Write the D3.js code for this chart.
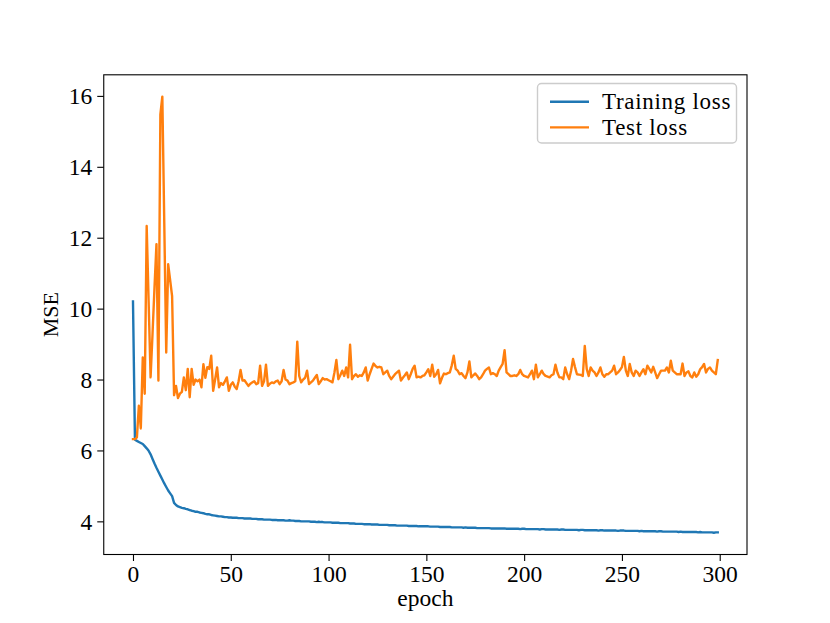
<!DOCTYPE html>
<html><head><meta charset="utf-8">
<script src="https://cdn.jsdelivr.net/npm/d3@7"></script>
<style>body{margin:0;background:#fff}svg{display:block}text{font-family:"Liberation Serif","DejaVu Serif",serif;fill:#000}</style>
</head><body><svg id="c" width="830" height="623"></svg>
<script>
const seriesNames = ["Training loss", "Test loss"];
const xTicks = [0, 50, 100, 150, 200, 250, 300];
const yTicks = [4, 6, 8, 10, 12, 14, 16];
const trainLoss = [
10.20,6.30,6.27,6.24,6.21,6.18,6.12,6.06,5.99,5.89,
5.76,5.63,5.51,5.40,5.29,5.18,5.07,4.97,4.87,4.79,
4.71,4.52,4.46,4.42,4.40,4.38,4.37,4.35,4.34,4.32,
4.30,4.29,4.27,4.27,4.25,4.24,4.23,4.21,4.20,4.20,
4.18,4.17,4.16,4.15,4.14,4.14,4.13,4.12,4.12,4.11,
4.11,4.10,4.10,4.10,4.09,4.09,4.09,4.08,4.08,4.08,
4.08,4.07,4.07,4.07,4.06,4.06,4.06,4.05,4.05,4.05,
4.05,4.04,4.04,4.04,4.03,4.03,4.03,4.03,4.02,4.02,
4.03,4.02,4.02,4.01,4.01,4.01,4.00,4.00,4.00,4.00,
4.00,3.99,3.99,3.99,3.98,3.99,3.98,3.98,3.97,3.97,
3.97,3.97,3.96,3.96,3.96,3.96,3.95,3.95,3.95,3.95,
3.95,3.94,3.94,3.94,3.93,3.93,3.93,3.93,3.92,3.92,
3.92,3.92,3.91,3.91,3.91,3.91,3.90,3.90,3.90,3.90,
3.90,3.89,3.89,3.89,3.89,3.88,3.88,3.88,3.88,3.88,
3.88,3.87,3.87,3.87,3.87,3.87,3.86,3.86,3.86,3.86,
3.86,3.86,3.85,3.85,3.85,3.85,3.85,3.84,3.84,3.84,
3.84,3.84,3.84,3.83,3.83,3.83,3.83,3.83,3.83,3.82,
3.83,3.82,3.82,3.82,3.82,3.82,3.81,3.81,3.81,3.81,
3.81,3.81,3.81,3.80,3.80,3.80,3.80,3.80,3.80,3.80,
3.80,3.79,3.79,3.79,3.79,3.79,3.79,3.79,3.78,3.79,
3.79,3.78,3.78,3.78,3.78,3.78,3.78,3.78,3.77,3.78,
3.78,3.77,3.77,3.77,3.77,3.77,3.77,3.77,3.76,3.77,
3.77,3.76,3.76,3.76,3.76,3.76,3.76,3.76,3.75,3.76,
3.76,3.75,3.75,3.75,3.75,3.75,3.75,3.75,3.74,3.75,
3.75,3.74,3.74,3.74,3.74,3.74,3.74,3.74,3.73,3.74,
3.74,3.74,3.73,3.73,3.73,3.73,3.73,3.73,3.73,3.72,
3.73,3.72,3.72,3.72,3.72,3.72,3.72,3.72,3.71,3.72,
3.72,3.71,3.71,3.71,3.71,3.71,3.71,3.71,3.71,3.70,
3.71,3.70,3.70,3.70,3.70,3.70,3.70,3.70,3.70,3.69,
3.70,3.69,3.69,3.69,3.69,3.69,3.69,3.68,3.69,3.69
];
const testLoss = [
6.32,6.32,6.37,7.26,6.62,8.62,7.60,12.33,10.20,8.06,
9.30,10.60,11.82,7.97,15.48,15.98,12.40,8.76,11.25,10.80,
10.35,7.56,7.82,7.48,7.60,7.65,8.06,7.70,8.30,7.50,
8.30,7.85,8.00,7.95,8.00,7.78,8.43,8.05,8.35,8.30,
8.67,7.68,8.00,8.34,7.78,7.90,7.85,7.95,8.06,7.68,
7.85,7.92,7.80,7.73,7.95,8.27,7.97,7.98,7.90,7.82,
7.88,7.92,7.95,7.87,7.90,8.39,7.82,7.95,8.42,7.82,
7.88,7.92,7.90,7.95,7.97,7.87,7.95,8.27,8.00,7.97,
7.87,7.90,7.92,7.95,9.07,8.10,7.92,8.00,8.05,8.25,
7.87,7.92,7.97,8.05,8.13,7.87,7.95,8.04,8.00,8.01,
7.98,7.95,7.92,8.20,8.55,8.01,8.12,8.25,8.10,8.34,
8.06,8.98,8.01,8.10,8.15,8.08,8.12,8.10,8.20,8.34,
7.97,8.15,8.30,8.45,8.38,8.34,8.36,8.34,8.15,8.20,
8.25,8.10,8.01,8.08,8.15,8.20,8.25,7.97,8.05,8.12,
8.20,8.01,8.15,8.30,8.39,8.06,8.08,8.06,8.10,8.12,
8.20,8.29,8.10,8.42,8.08,8.15,8.27,7.89,8.05,8.17,
8.15,8.18,8.20,8.40,8.67,8.30,8.25,8.15,8.18,8.10,
8.04,8.20,8.51,8.06,8.12,8.17,8.10,8.01,8.06,8.15,
8.25,8.30,8.34,8.15,8.18,8.15,8.10,8.25,8.35,8.44,
8.83,8.20,8.15,8.10,8.10,8.12,8.10,8.15,8.27,8.15,
8.10,8.08,8.06,8.15,8.25,8.01,8.42,8.06,8.15,8.25,
8.15,8.10,8.08,8.06,8.12,8.15,8.42,8.20,8.06,8.06,
8.01,8.34,8.15,8.01,8.25,8.58,8.35,8.15,8.14,8.13,
8.10,8.95,8.30,8.10,8.34,8.25,8.20,8.10,8.20,8.34,
8.15,8.08,8.15,8.15,8.20,8.25,8.39,8.15,8.20,8.27,
8.35,8.64,8.25,8.10,8.44,8.20,8.10,8.25,8.20,8.10,
8.20,8.29,8.15,8.39,8.30,8.20,8.36,8.20,8.04,8.15,
8.25,8.25,8.25,8.34,8.20,8.53,8.25,8.20,8.15,8.15,
8.15,8.45,8.10,8.20,8.23,8.10,8.06,8.20,8.08,8.15,
8.29,8.35,8.44,8.20,8.30,8.34,8.25,8.20,8.15,8.55
];
const colors = ["#1f77b4", "#ff7f0e"];

const W = 830, H = 623;
const m = {left: 103.75, right: 747, top: 74.8, bottom: 554.5};
const svg = d3.select("#c");
const n = trainLoss.length;
const xPad = (n - 1) * 0.05;
const x = d3.scaleLinear().domain([-xPad, n - 1 + xPad]).range([m.left, m.right]);
const allV = trainLoss.concat(testLoss);
const vmin = d3.min(allV), vmax = d3.max(allV), yPad = (vmax - vmin) * 0.05;
const y = d3.scaleLinear().domain([vmin - yPad, vmax + yPad]).range([m.bottom, m.top]);

const line = d3.line().x((d, i) => x(i)).y(d => y(d));
svg.append("clipPath").attr("id", "clp").append("rect")
  .attr("x", m.left).attr("y", m.top).attr("width", m.right - m.left).attr("height", m.bottom - m.top);
const g = svg.append("g").attr("clip-path", "url(#clp)");
[trainLoss, testLoss].forEach((s, k) => {
  g.append("path").datum(s).attr("d", line).attr("fill", "none")
    .attr("stroke", colors[k]).attr("stroke-width", 2.4).attr("stroke-linejoin", "round").attr("stroke-linecap", "square");
});

const fs = 23.5;
const xAxis = d3.axisBottom(x).tickValues(xTicks).tickSize(6.5).tickPadding(5).tickFormat(d3.format("d"));
const gx = svg.append("g").attr("transform", `translate(0,${m.bottom})`).call(xAxis);
const yAxis = d3.axisLeft(y).tickValues(yTicks).tickSize(6.5).tickPadding(5).tickFormat(d3.format("d"));
const gy = svg.append("g").attr("transform", `translate(${m.left},0)`).call(yAxis);
[gx, gy].forEach(a => {
  a.select(".domain").remove();
  a.selectAll(".tick line").attr("stroke", "#000").attr("stroke-width", 1.1);
  a.selectAll(".tick text").style("font-family", '"Liberation Serif", serif').style("font-size", fs + "px").attr("fill", "#000");
});
gy.selectAll(".tick text").attr("dy", "0.34em");
gx.selectAll(".tick text").attr("dy", "0.7em");

svg.append("rect").attr("x", m.left).attr("y", m.top).attr("width", m.right - m.left).attr("height", m.bottom - m.top)
  .attr("fill", "none").attr("stroke", "#000").attr("stroke-width", 1.1);

svg.append("text").attr("x", (m.left + m.right) / 2).attr("y", 606).attr("text-anchor", "middle")
  .style("font-size", fs + "px").text("epoch");
svg.append("text").attr("transform", `translate(58,${(m.top + m.bottom) / 2}) rotate(-90)`).attr("text-anchor", "middle")
  .style("font-size", "22px").text("MSE");

const lg = svg.append("g");
lg.append("rect").attr("x", 537.5).attr("y", 83.5).attr("width", 199).attr("height", 59.5).attr("rx", 4)
  .attr("fill", "#fff").attr("fill-opacity", 0.8).attr("stroke", "#cccccc").attr("stroke-width", 1.4);
seriesNames.forEach((name, k) => {
  const yy = 101.8 + k * 25.6;
  lg.append("line").attr("x1", 550).attr("x2", 589).attr("y1", yy).attr("y2", yy)
    .attr("stroke", colors[k]).attr("stroke-width", 2.4);
  lg.append("text").attr("x", 602).attr("y", yy + 7.2).style("font-size", "23px")
    .style("letter-spacing", "0.7px").text(name);
});
</script></body></html>
